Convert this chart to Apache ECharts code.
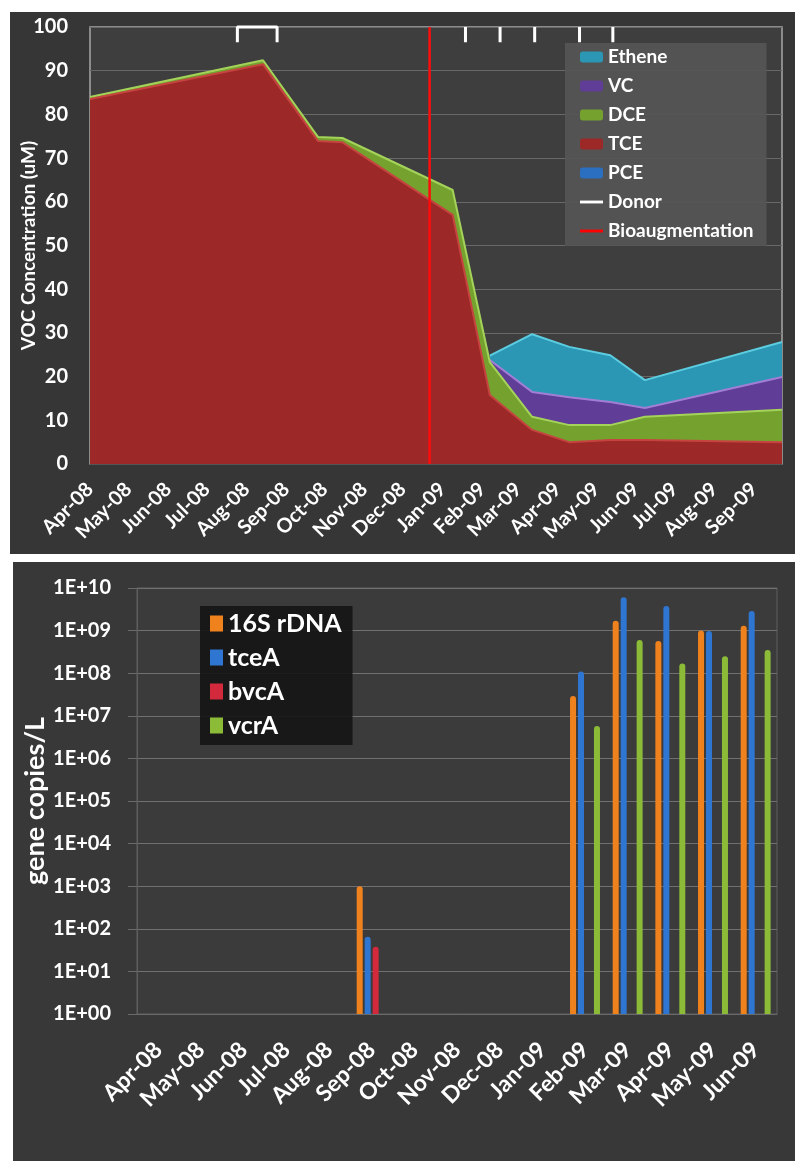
<!DOCTYPE html>
<html>
<head>
<meta charset="utf-8">
<script src="https://cdn.jsdelivr.net/npm/echarts@6/dist/echarts.min.js"></script>
<style>
  html, body { margin: 0; padding: 0; background: #ffffff; width: 795px; height: 1161px; overflow: hidden; }
  #voc   { position: absolute; left: 10px; top: 12px;  width: 785px; height: 542px; background: #363636; }
  #genes { position: absolute; left: 13px; top: 562px; width: 782px; height: 599px; background: #383838; }
</style>
</head>
<body>
<div id="voc"></div>
<div id="genes"></div>
<script>
// ---- VOC concentrations (uM) per sampling date ----
const sampleDates = ['2008-04-01', '2008-08-14', '2008-09-26', '2008-10-15', '2009-01-09',
                     '2009-02-07', '2009-03-12', '2009-04-10', '2009-05-12', '2009-06-08', '2009-09-23'];
const pce    = [0, 0, 0, 0, 0, 0, 0, 0, 0, 0, 0];
const tce    = [83.5, 91.5, 73.9, 73.6, 57.0, 15.8, 7.8, 5.0, 5.5, 5.5, 5.0];
const dce    = [0.5, 0.9, 0.9, 1.0, 5.7, 7.5, 3.0, 3.9, 3.4, 5.3, 7.4];
const vc     = [null, null, null, null, null, 0.5, 5.7, 6.4, 5.3, 2.0, 7.5];
const ethene = [null, null, null, null, null, 1.0, 13.2, 11.5, 10.7, 6.4, 8.0];

// donor injections: one extended period, then single events
const donorPeriod = ['2008-07-25', '2008-08-25'];
const donorEvents = ['2009-01-19', '2009-02-15', '2009-03-14', '2009-04-18', '2009-05-14'];
const bioaugDate = '2008-12-22';

const vocMonthTicks  = ['2008-04-01', '2008-05-01', '2008-06-01', '2008-07-01', '2008-08-01', '2008-09-01',
                        '2008-10-01', '2008-11-01', '2008-12-01', '2009-01-01', '2009-02-01', '2009-03-01',
                        '2009-04-01', '2009-05-01', '2009-06-01', '2009-07-01', '2009-08-01', '2009-09-01'];
const vocMonthLabels = ['Apr-08', 'May-08', 'Jun-08', 'Jul-08', 'Aug-08', 'Sep-08', 'Oct-08', 'Nov-08', 'Dec-08',
                        'Jan-09', 'Feb-09', 'Mar-09', 'Apr-09', 'May-09', 'Jun-09', 'Jul-09', 'Aug-09', 'Sep-09'];

// ---- qPCR gene copies per litre, by month ----
const geneMonths = ['Apr-08', 'May-08', 'Jun-08', 'Jul-08', 'Aug-08', 'Sep-08', 'Oct-08', 'Nov-08',
                    'Dec-08', 'Jan-09', 'Feb-09', 'Mar-09', 'Apr-09', 'May-09', 'Jun-09'];
const rDNA16S = [null, null, null, null, null, 1000, null, null, null, null, 2.9e7, 1.7e9, 5.7e8, 1.0e9, 1.3e9];
const tceA    = [null, null, null, null, null, 65,   null, null, null, null, 1.1e8, 6.1e9, 3.8e9, 9.8e8, 2.9e9];
const bvcA    = [null, null, null, null, null, 38,   null, null, null, null, null,  null,  null,  null,  null];
const vcrA    = [null, null, null, null, null, null, null, null, null, null, 5.8e6, 6.0e8, 1.7e8, 2.5e8, 3.5e8];
const logTickLabels = ['1E+00', '1E+01', '1E+02', '1E+03', '1E+04', '1E+05',
                       '1E+06', '1E+07', '1E+08', '1E+09', '1E+10'];

const FONT = 'Lato, "Open Sans", sans-serif';
// dates are plotted as day numbers (UTC) on a value axis
const DAY = 86400000;
const t = d => Date.parse(d + 'T00:00:00Z') / DAY;

// ---------------- VOC cumulative area chart ----------------
const tickDays = vocMonthTicks.map(t);

// running totals, bottom (PCE) to top (Ethene)
const layers = [pce, tce, dce, vc, ethene];
const cumulative = [];
layers.forEach((vals, k) => {
  cumulative.push(vals.map((v, i) => {
    if (v == null) return null;
    const below = k > 0 ? cumulative[k - 1][i] : 0;
    return (below == null ? 0 : below) + v;
  }));
});
const pairs = vals => sampleDates.map((d, i) => [t(d), vals[i]]);

const DONOR_MARK = [96.5, 100];
const donorData = [];
donorData.push([t(donorPeriod[0]), DONOR_MARK[0]], [t(donorPeriod[0]), DONOR_MARK[1]],
               [t(donorPeriod[1]), DONOR_MARK[1]], [t(donorPeriod[1]), DONOR_MARK[0]], [t(donorPeriod[1]), null]);
donorEvents.forEach(d => donorData.push([t(d), DONOR_MARK[0]], [t(d), DONOR_MARK[1]], [t(d), null]));

// each layer is filled from the axis up to its running total; upper layers are drawn first
function areaSeries(name, layerIndex, fill, edge) {
  return {
    name, type: 'line', data: pairs(cumulative[layerIndex]),
    symbol: 'none', showSymbol: false, color: fill, connectNulls: false,
    lineStyle: { color: edge, width: name === 'PCE' ? 0 : 2 },
    areaStyle: { color: fill, opacity: 1 },
    emphasis: { disabled: true }
  };
}

const vocChart = echarts.init(document.getElementById('voc'));
vocChart.setOption({
  animation: false,
  textStyle: { fontFamily: FONT },
  grid: {
    left: 80, top: 15, width: 692, height: 437,
    outerBoundsMode: 'none', containLabel: false,
    show: true, backgroundColor: '#3e3e3e', borderColor: '#a8a8a8', borderWidth: 1.5
  },
  legend: {
    orient: 'vertical', left: 555, top: 31,
    padding: [4, 13, 5, 15], backgroundColor: 'rgba(85,85,85,0.92)',
    itemWidth: 23, itemHeight: 11, itemGap: 9,
    textStyle: { color: '#ffffff', fontSize: 19, fontWeight: 'bold', fontFamily: FONT, lineHeight: 20 },
    data: [
      { name: 'Ethene', icon: 'roundRect' },
      { name: 'VC', icon: 'roundRect' },
      { name: 'DCE', icon: 'roundRect' },
      { name: 'TCE', icon: 'roundRect' },
      { name: 'PCE', icon: 'roundRect' },
      { name: 'Donor', icon: 'path://M0,0H24V3H0Z' },
      { name: 'Bioaugmentation', icon: 'path://M0,0H24V3H0Z' }
    ]
  },
  xAxis: {
    type: 'value', min: t('2008-04-01'), max: t('2009-09-23'),
    splitLine: { show: false },
    axisLine: { show: true, onZero: false, lineStyle: { color: '#555555' } },
    axisTick: { show: false },
    axisLabel: {
      customValues: tickDays,
      rotate: 45, margin: 22, color: '#ffffff', fontSize: 20, fontWeight: 'bold', fontFamily: FONT,
      formatter: v => { const i = tickDays.indexOf(v); return i >= 0 ? vocMonthLabels[i] : ''; }
    }
  },
  yAxis: {
    type: 'value', min: 0, max: 100, interval: 10,
    name: 'VOC Concentration (uM)', nameLocation: 'middle', nameGap: 52, nameMoveOverlap: false,
    nameTextStyle: { color: '#ffffff', fontSize: 19, fontWeight: 'bold', fontFamily: FONT },
    axisLine: { show: false }, axisTick: { show: false },
    axisLabel: { color: '#ffffff', fontSize: 20, fontWeight: 'bold', margin: 22, fontFamily: FONT },
    splitLine: { lineStyle: { color: '#686868', width: 1 } }
  },
  series: [
    areaSeries('Ethene', 4, '#2b97b4', '#5ccde0'),
    areaSeries('VC', 3, '#603d96', '#a27ed6'),
    areaSeries('DCE', 2, '#75a22f', '#a4d35a'),
    areaSeries('TCE', 1, '#9c2827', '#c64440'),
    areaSeries('PCE', 0, '#2a6fc0', '#2a6fc0'),
    {
      name: 'Donor', type: 'line', data: donorData, color: '#ffffff',
      symbol: 'none', showSymbol: false, connectNulls: false, clip: false,
      lineStyle: { color: '#ffffff', width: 3 }, emphasis: { disabled: true }, z: 5
    },
    {
      name: 'Bioaugmentation', type: 'line', color: '#ff0000',
      data: [[t(bioaugDate), 0], [t(bioaugDate), 100]],
      symbol: 'none', showSymbol: false,
      lineStyle: { color: '#ff0d0d', width: 2.5 }, emphasis: { disabled: true }, z: 6
    }
  ]
});

// ---------------- gene copies bar chart (log scale) ----------------
function barSeries(name, vals, color) {
  return {
    name, type: 'bar', data: vals, barWidth: 6, barGap: '33%', color,
    itemStyle: { color, borderRadius: [3, 3, 0, 0] },
    emphasis: { disabled: true }
  };
}

const geneChart = echarts.init(document.getElementById('genes'));
geneChart.setOption({
  animation: false,
  textStyle: { fontFamily: FONT },
  grid: {
    left: 124, top: 26, width: 640, height: 426,
    outerBoundsMode: 'none', containLabel: false,
    show: true, backgroundColor: '#3b3b3b', borderColor: '#5e5e5e', borderWidth: 1
  },
  legend: {
    orient: 'vertical', left: 187, top: 44,
    padding: [5, 11, 7, 10], backgroundColor: 'rgba(22,22,22,0.92)',
    icon: 'rect', itemWidth: 13, itemHeight: 16, itemGap: 9,
    textStyle: { color: '#ffffff', fontSize: 25, fontWeight: 'bold', fontFamily: FONT, lineHeight: 25 },
    data: ['16S rDNA', 'tceA', 'bvcA', 'vcrA']
  },
  xAxis: {
    type: 'category', data: geneMonths, boundaryGap: true,
    axisLine: { show: true, lineStyle: { color: '#6a6a6a' } },
    axisTick: { show: false },
    axisLabel: { interval: 0, rotate: 45, margin: 32, color: '#ffffff', fontSize: 23, fontWeight: 'bold', fontFamily: FONT }
  },
  yAxis: {
    type: 'log', logBase: 10, min: 1, max: 1e10, splitNumber: 10, interval: 1,
    name: 'gene copies/L', nameLocation: 'middle', nameGap: 88, nameMoveOverlap: false,
    nameTextStyle: { color: '#ffffff', fontSize: 27, fontWeight: 'bold', fontFamily: FONT },
    axisLine: { show: true, lineStyle: { color: '#5e5e5e' } },
    axisTick: { show: true, length: 9, lineStyle: { color: '#6a6a6a' } },
    axisLabel: {
      color: '#ffffff', fontSize: 20, fontWeight: 'bold', margin: 26, fontFamily: FONT,
      formatter: v => logTickLabels[Math.round(Math.log10(v))] || ''
    },
    splitLine: { lineStyle: { color: '#707070', width: 1 } }
  },
  series: [
    barSeries('16S rDNA', rDNA16S, '#f0821e'),
    barSeries('tceA', tceA, '#2f76d2'),
    barSeries('bvcA', bvcA, '#d22a3c'),
    barSeries('vcrA', vcrA, '#8cbb38')
  ]
});
</script>
</body>
</html>
